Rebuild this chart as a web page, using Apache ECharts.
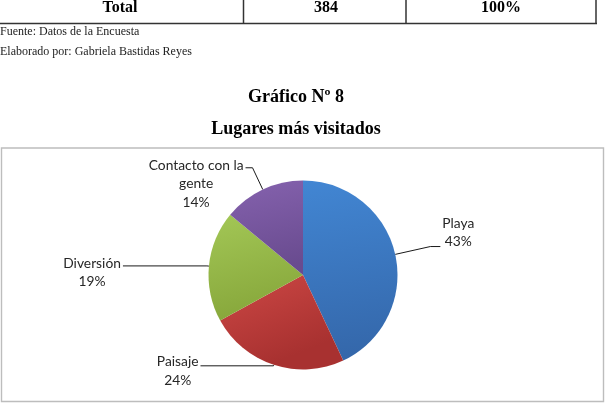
<!DOCTYPE html>
<html>
<head>
<meta charset="utf-8">
<title>Gráfico Nº 8</title>
<script src="https://cdn.jsdelivr.net/npm/echarts@6/dist/echarts.min.js"></script>
<style>
html, body { margin: 0; padding: 0; background: #fff; }
#chart { width: 606px; height: 412px; }
</style>
</head>
<body>
<div id="chart"></div>
<script>
// datos del gráfico
var lugares = ['Playa', 'Paisaje', 'Diversión', 'Contacto con la gente'];
var porcentajes = [43, 24, 19, 14];
// última fila de la tabla anterior
var filaTotal = ['Total', '384', '100%'];
var notas = ['Fuente: Datos de la Encuesta', 'Elaborado por: Gabriela Bastidas Reyes'];
var titulos = ['Gráfico Nº 8', 'Lugares más visitados'];

// colores tipo Excel, claro arriba y oscuro abajo
var colores = [ [ '#4286d3', '#3467aa' ], [ '#cd4845', '#a83130' ],
		[ '#a3c756', '#87a73b' ], [ '#8562ae', '#694b8f' ] ];
// guias de las etiquetas (largo de la linea y corrimiento del texto)
var guias = [ {
	length : 36,
	length2 : 10,
	padding : [ 0, 0, 28, 0 ]
}, {
	length : 1,
	length2 : 73,
	padding : [ 10, 0, 0, 0 ]
}, {
	length : 2,
	length2 : 84,
	padding : [ 13, 0, 0, 0 ]
}, {
	length : 24,
	length2 : 7,
	padding : [ 32, 0, 0, 0 ]
} ];

function partir(nombre, max) { // corta el nombre en lineas
	var palabras = nombre.split(' '), lineas = [], actual = '';
	palabras.forEach(function(p) {
		if (actual && (actual + ' ' + p).length > max) {
			lineas.push(actual);
			actual = p;
		} else {
			actual = actual ? actual + ' ' + p : p;
		}
	});
	lineas.push(actual);
	return lineas;
}

var chart = echarts.init(document.getElementById('chart'));
var serif = '"Liberation Serif", "Times New Roman", serif';
var colX = [ 120, 326, 501 ];

var elementos = [];
// caja del grafico
elementos.push({
	type : 'rect',
	z : -10,
	shape : { x : 1.5, y : 148, width : 602, height : 253.5 },
	style : { fill : '#fff', stroke : '#bdbdbd', lineWidth : 1.4 }
});
// tabla
elementos.push({
	type : 'line',
	shape : { x1 : 0, y1 : 23.5, x2 : 597, y2 : 23.5 },
	style : { stroke : '#333', lineWidth : 1.5 }
});
[ 243.5, 406, 596 ].forEach(function(x) {
	elementos.push({
		type : 'line',
		shape : { x1 : x, y1 : 0, x2 : x, y2 : 23.5 },
		style : { stroke : '#333', lineWidth : 1.5 }
	});
});
filaTotal.forEach(function(t, i) {
	elementos.push({
		type : 'text',
		style : {
			text : t, x : colX[i], y : 7.5,
			font : 'bold 16px ' + serif, fill : '#000',
			textAlign : 'center', textVerticalAlign : 'middle'
		}
	});
});
notas.forEach(function(t, i) {
	elementos.push({
		type : 'text',
		style : {
			text : t, x : 0, y : 32 + i * 20,
			font : '12px ' + serif, fill : '#222',
			textAlign : 'left', textVerticalAlign : 'middle'
		}
	});
});
titulos.forEach(function(t, i) {
	elementos.push({
		type : 'text',
		style : {
			text : t, x : 296, y : 97 + i * 32,
			font : 'bold 18px ' + serif, fill : '#000',
			textAlign : 'center', textVerticalAlign : 'middle'
		}
	});
});

chart.setOption({
	animation : false,
	graphic : { elements : elementos },
	series : [ {
		type : 'pie',
		center : [ 303, 275 ],
		radius : 94.5,
		startAngle : 90,
		clockwise : true,
		avoidLabelOverlap : false,
		emphasis : { disabled : true },
		label : {
			position : 'outside',
			distanceToLabelLine : 2,
			formatter : function(p) {
				return partir(p.name, 15).concat(p.percent + '%').map(function(l) {
					return '{t|' + l + '}';
				}).join('\n');
			},
			rich : {
				t : {
					align : 'center',
					fontFamily : 'Lato, "Noto Sans", sans-serif',
					fontSize : 13.8,
					lineHeight : 18.5,
					color : '#262626'
				}
			}
		},
		labelLine : {
			show : true,
			smooth : false,
			lineStyle : { color : '#1a1a1a', width : 1 }
		},
		itemStyle : { borderWidth : 0 },
		data : lugares.map(function(n, i) {
			return {
				name : n,
				value : porcentajes[i],
				itemStyle : {
					color : {
						type : 'linear', x : 0, y : 0, x2 : 0.3, y2 : 1,
						colorStops : [ { offset : 0, color : colores[i][0] },
								{ offset : 1, color : colores[i][1] } ]
					}
				},
				labelLine : { length : guias[i].length, length2 : guias[i].length2 },
				label : { padding : guias[i].padding }
			};
		})
	} ]
});
</script>
</body>
</html>
